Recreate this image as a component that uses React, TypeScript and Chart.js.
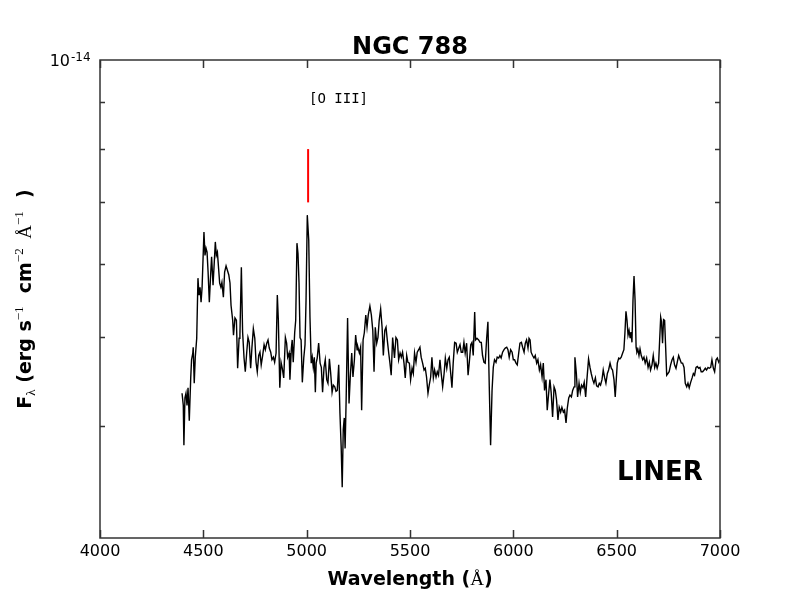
import React, { useEffect, useRef } from "react";
import { Chart, registerables } from "chart.js";

Chart.register(...registerables);

const TITLE = "NGC 788";
const LINE_LABEL = "[O III]";
const CLASS_LABEL = "LINER";
const FLUX_UNIT = 1e-15;
const X_MIN = 4000;
const X_MAX = 7000;
const Y_MIN = 3.02; // x1e-15
const Y_MAX = 10; // x1e-15 (= 10^-14)
const X_TICKS = [4000, 4500, 5000, 5500, 6000, 6500, 7000];
const Y_MINOR_TICKS = [4, 5, 6, 7, 8, 9]; // x1e-15
const Y_TICK_BASE = "10";
const Y_TICK_EXP = "-14";
const OIII_WAVELENGTH = 5007;
const OIII_MARKER = [7.0, 8.0]; // x1e-15

// [wavelength (Å), flux (x1e-15 erg s^-1 cm^-2 Å^-1)]
const spectrum: [number, number][] = [
  [4397,4.34],[4403,4.21],[4406,3.81],[4411,4.29],[4416,4.34],[4421,4.21],[4426,4.40],[4432,4.05],[4439,4.51],[4443,4.72],
  [4449,4.80],[4451,4.87],[4456,4.45],[4461,4.75],[4468,4.98],[4474,5.79],[4479,5.55],[4484,5.66],[4489,5.45],[4494,5.66],
  [4503,6.50],[4508,6.13],[4513,6.24],[4518,6.18],[4523,5.88],[4529,5.45],[4536,5.88],[4540,6.11],[4547,5.69],[4553,6.03],
  [4558,6.34],[4563,6.13],[4568,6.18],[4572,6.01],[4579,5.72],[4585,5.66],[4590,5.73],[4597,5.52],[4603,5.88],[4610,5.97],
  [4616,5.91],[4623,5.84],[4629,5.72],[4634,5.41],[4642,5.21],[4646,5.02],[4653,5.24],[4660,5.21],[4666,4.62],[4673,4.98],
  [4677,5.02],[4684,5.95],[4690,5.06],[4697,4.74],[4703,4.58],[4710,4.81],[4716,4.99],[4722,4.93],[4729,4.62],[4735,4.86],
  [4742,5.10],[4749,4.98],[4755,4.69],[4761,4.58],[4768,4.77],[4774,4.81],[4780,4.66],[4787,4.77],[4794,4.90],[4800,4.84],
  [4807,4.92],[4813,4.96],[4819,4.86],[4826,4.81],[4832,4.72],[4839,4.75],[4845,4.69],[4852,4.80],[4858,5.55],[4863,5.21],
  [4870,4.40],[4876,4.69],[4882,4.62],[4889,4.51],[4897,4.99],[4903,4.92],[4908,4.75],[4915,4.80],[4919,4.49],[4926,4.86],
  [4930,4.96],[4935,4.69],[4942,5.05],[4947,5.21],[4953,6.32],[4958,6.16],[4963,5.72],[4968,4.99],[4973,4.96],[4979,4.46],
  [4986,4.74],[4992,4.90],[4997,5.48],[5003,6.78],[5010,6.37],[5016,5.25],[5022,4.68],[5027,4.75],[5032,4.63],[5037,4.75],
  [5042,4.35],[5046,4.68],[5051,4.74],[5058,4.92],[5065,4.68],[5071,4.63],[5077,4.35],[5084,4.63],[5090,4.72],[5097,4.49],
  [5103,4.45],[5110,4.73],[5116,4.57],[5123,4.35],[5129,4.43],[5136,4.41],[5142,4.36],[5148,4.37],[5155,4.66],[5161,4.13],
  [5167,3.79],[5172,3.43],[5177,3.96],[5182,4.08],[5186,3.78],[5191,4.27],[5198,5.24],[5205,4.23],[5211,4.52],[5218,4.80],
  [5224,4.52],[5231,4.72],[5237,5.02],[5244,4.84],[5248,4.87],[5255,4.80],[5261,4.87],[5266,4.16],[5273,4.96],[5279,5.05],
  [5286,5.28],[5292,5.12],[5298,5.28],[5306,5.40],[5313,5.28],[5320,5.08],[5326,4.58],[5332,5.12],[5339,4.92],[5345,4.99],
  [5351,5.21],[5358,5.36],[5365,5.12],[5371,4.77],[5378,5.08],[5384,5.12],[5390,4.96],[5397,4.80],[5403,4.68],[5409,4.54],
  [5416,4.99],[5425,4.74],[5432,4.99],[5439,4.96],[5445,4.72],[5452,4.80],[5458,4.75],[5464,4.81],[5471,4.68],[5477,4.51],
  [5484,4.77],[5490,4.69],[5497,4.68],[5503,4.49],[5510,4.62],[5516,4.56],[5522,4.80],[5529,4.69],[5535,4.81],[5542,4.84],
  [5548,4.87],[5554,4.75],[5561,4.68],[5568,4.60],[5574,4.62],[5580,4.52],[5587,4.34],[5593,4.43],[5600,4.52],[5606,4.75],
  [5613,4.51],[5619,4.60],[5626,4.52],[5632,4.58],[5638,4.54],[5645,4.72],[5651,4.56],[5658,4.41],[5665,4.56],[5671,4.74],
  [5678,4.62],[5684,4.72],[5690,4.75],[5697,4.56],[5703,4.40],[5709,4.68],[5716,4.93],[5723,4.92],[5729,4.81],[5736,4.86],
  [5742,4.90],[5748,4.81],[5755,4.81],[5761,4.93],[5767,4.80],[5774,4.92],[5781,4.54],[5787,4.69],[5794,4.90],[5800,4.93],
  [5806,4.77],[5813,5.32],[5817,4.96],[5824,4.98],[5832,4.96],[5839,4.93],[5845,4.93],[5851,4.77],[5858,4.69],[5864,4.68],
  [5871,4.98],[5877,5.19],[5884,4.37],[5890,3.81],[5897,4.37],[5903,4.63],[5909,4.72],[5916,4.69],[5922,4.75],[5929,4.74],
  [5935,4.77],[5941,4.74],[5948,4.81],[5955,4.84],[5961,4.86],[5968,4.87],[5974,4.84],[5980,4.75],[5987,4.84],[5994,4.81],
  [6000,4.72],[6006,4.72],[6013,4.68],[6019,4.66],[6026,4.80],[6032,4.92],[6039,4.93],[6045,4.87],[6052,4.81],[6058,4.92],
  [6064,4.96],[6071,4.86],[6076,4.98],[6081,4.96],[6086,4.81],[6093,4.77],[6100,4.74],[6106,4.77],[6113,4.68],[6119,4.72],
  [6126,4.60],[6132,4.66],[6139,4.52],[6145,4.68],[6151,4.37],[6158,4.49],[6164,4.16],[6171,4.34],[6177,4.49],[6183,4.35],
  [6190,4.09],[6197,4.41],[6203,4.37],[6209,4.27],[6216,4.06],[6222,4.19],[6229,4.14],[6235,4.19],[6242,4.14],[6248,4.16],
  [6255,4.03],[6261,4.18],[6268,4.29],[6274,4.32],[6281,4.30],[6287,4.37],[6294,4.41],[6298,4.75],[6305,4.56],[6311,4.30],
  [6318,4.45],[6324,4.35],[6330,4.43],[6337,4.40],[6343,4.46],[6350,4.30],[6356,4.49],[6364,4.73],[6371,4.63],[6377,4.56],
  [6384,4.49],[6390,4.45],[6397,4.51],[6403,4.42],[6410,4.41],[6416,4.45],[6422,4.43],[6429,4.49],[6435,4.60],[6442,4.51],
  [6448,4.45],[6455,4.56],[6461,4.60],[6468,4.68],[6474,4.62],[6480,4.60],[6487,4.49],[6493,4.30],[6503,4.68],[6510,4.74],
  [6516,4.73],[6522,4.75],[6529,4.80],[6535,4.84],[6540,5.05],[6545,5.33],[6550,5.21],[6555,5.02],[6560,5.08],[6565,4.99],
  [6569,5.06],[6574,4.93],[6579,5.48],[6584,5.82],[6589,5.48],[6594,4.87],[6598,4.81],[6603,4.84],[6608,4.77],[6613,4.85],
  [6619,4.77],[6626,4.72],[6632,4.75],[6638,4.68],[6645,4.74],[6652,4.63],[6658,4.69],[6664,4.60],[6671,4.66],[6677,4.77],
  [6684,4.63],[6690,4.68],[6696,4.62],[6703,4.68],[6708,4.96],[6713,5.25],[6717,5.19],[6722,4.92],[6727,5.22],[6732,5.21],
  [6737,4.87],[6742,4.54],[6748,4.56],[6754,4.58],[6761,4.66],[6768,4.72],[6774,4.75],[6780,4.66],[6787,4.62],[6793,4.69],
  [6800,4.77],[6807,4.72],[6813,4.68],[6819,4.68],[6826,4.63],[6832,4.45],[6839,4.41],[6845,4.45],[6851,4.40],[6858,4.46],
  [6865,4.51],[6871,4.56],[6877,4.54],[6884,4.63],[6890,4.64],[6897,4.62],[6903,4.63],[6909,4.58],[6916,4.58],[6923,4.60],
  [6929,4.62],[6935,4.60],[6942,4.63],[6948,4.62],[6955,4.63],[6961,4.72],[6968,4.62],[6974,4.58],[6981,4.72],[6987,4.74],
  [6994,4.69],[7000,4.72],
];

type Seg = { text: string; font: string; dy?: number };

const BOLD = (s: number) => `bold ${s}px "DejaVu Sans"`;
const SERIF = (s: number) => `${s}px "Liberation Serif"`;

function drawRich(ctx: CanvasRenderingContext2D, segs: Seg[], cx: number, baseline: number) {
  let total = 0;
  const widths = segs.map((s) => {
    ctx.font = s.font;
    const w = ctx.measureText(s.text).width;
    total += w;
    return w;
  });
  let x = cx - total / 2;
  ctx.textAlign = "left";
  ctx.textBaseline = "alphabetic";
  segs.forEach((s, i) => {
    ctx.font = s.font;
    ctx.fillText(s.text, x, baseline + (s.dy || 0));
    x += widths[i];
  });
}

const decor = {
  id: "decor",
  afterDraw(chart: any) {
    const { ctx, chartArea, scales } = chart;
    const { left, right, top, bottom } = chartArea;
    const xs = scales.x;
    const ys = scales.y;
    ctx.save();
    // frame and inward ticks
    ctx.strokeStyle = "#333";
    ctx.lineWidth = 1.5;
    ctx.beginPath();
    X_TICKS.forEach((v) => {
      const px = Math.round(xs.getPixelForValue(v)) + 0.5;
      ctx.moveTo(px, bottom);
      ctx.lineTo(px, bottom - 8);
      ctx.moveTo(px, top);
      ctx.lineTo(px, top + 8);
    });
    Y_MINOR_TICKS.forEach((v) => {
      const py = Math.round(ys.getPixelForValue(v * FLUX_UNIT)) + 0.5;
      ctx.moveTo(left, py);
      ctx.lineTo(left + 5, py);
      ctx.moveTo(right, py);
      ctx.lineTo(right - 5, py);
    });
    ctx.stroke();
    ctx.strokeRect(left, top, right - left, bottom - top);

    ctx.fillStyle = "#000";
    // y tick label 10^-14
    const yTop = ys.getPixelForValue(Y_MAX * FLUX_UNIT);
    ctx.font = `16px "DejaVu Sans"`;
    ctx.textAlign = "right";
    ctx.textBaseline = "middle";
    ctx.fillText(Y_TICK_BASE, 70, yTop + 2);
    ctx.font = `12px "DejaVu Sans"`;
    ctx.textAlign = "left";
    ctx.textBaseline = "alphabetic";
    ctx.fillText(Y_TICK_EXP, 71, yTop + 1);

    // title
    ctx.font = BOLD(24);
    ctx.textAlign = "center";
    ctx.textBaseline = "alphabetic";
    ctx.fillText(TITLE, (left + right) / 2, 54);

    // [O III] label
    ctx.font = `14px "DejaVu Sans Mono"`;
    ctx.textAlign = "left";
    ctx.fillText(LINE_LABEL, 309, 103);

    // class label
    ctx.font = BOLD(26);
    ctx.textAlign = "center";
    ctx.fillText(CLASS_LABEL, 660, 480);

    // x axis title
    drawRich(
      ctx,
      [
        { text: "Wavelength (", font: BOLD(19) },
        { text: "Å", font: SERIF(19) },
        { text: ")", font: BOLD(19) },
      ],
      (left + right) / 2,
      585
    );

    // y axis title (rotated)
    ctx.save();
    ctx.translate(31, (top + bottom) / 2);
    ctx.rotate(-Math.PI / 2);
    drawRich(
      ctx,
      [
        { text: "F", font: BOLD(19) },
        { text: "λ", font: SERIF(13), dy: 4 },
        { text: " (erg s", font: BOLD(19) },
        { text: "−1", font: SERIF(13), dy: -8 },
        { text: "  cm", font: BOLD(19) },
        { text: "−2", font: SERIF(13), dy: -8 },
        { text: "  Å", font: SERIF(19) },
        { text: "−1", font: SERIF(13), dy: -8 },
        { text: "  )", font: BOLD(19) },
      ],
      0,
      0
    );
    ctx.restore();
    ctx.restore();
  },
};

export default function App() {
  const ref = useRef<HTMLCanvasElement>(null);
  useEffect(() => {
    const canvas = ref.current!;
    const chart = new Chart(canvas, {
      type: "line",
      data: {
        datasets: [
          {
            data: spectrum.map(([w, f]) => ({ x: w, y: f * FLUX_UNIT })),
            borderColor: "#000",
            borderWidth: 1.4,
            pointRadius: 0,
            tension: 0,
          },
          {
            data: OIII_MARKER.map((f) => ({ x: OIII_WAVELENGTH, y: f * FLUX_UNIT })),
            borderColor: "#ff0000",
            borderWidth: 2,
            pointRadius: 0,
          },
        ],
      },
      options: {
        responsive: false,
        animation: false,
        devicePixelRatio: 1,
        events: [],
        layout: { padding: { top: 60, right: 80, left: 0, bottom: 0 } },
        plugins: {
          legend: { display: false },
          tooltip: { enabled: false },
          title: { display: false },
        },
        scales: {
          x: {
            type: "linear",
            min: X_MIN,
            max: X_MAX,
            afterBuildTicks: (s: any) => {
              s.ticks = X_TICKS.map((v) => ({ value: v }));
            },
            ticks: {
              font: { family: "DejaVu Sans", size: 16 },
              color: "#000",
              padding: 4,
              maxRotation: 0,
              autoSkip: false,
              callback: (v: any) => String(v),
            },
            grid: { display: false, drawTicks: false },
            border: { display: false },
            afterFit: (s: any) => {
              s.height = 62;
            },
          },
          y: {
            type: "logarithmic",
            min: Y_MIN * FLUX_UNIT,
            max: Y_MAX * FLUX_UNIT,
            ticks: { display: false },
            grid: { display: false, drawTicks: false },
            border: { display: false },
            afterFit: (s: any) => {
              s.width = 100;
            },
          },
        },
      } as any,
      plugins: [decor],
    });
    return () => chart.destroy();
  }, []);
  return (
    <div style={{ position: "absolute", left: 0, top: 0, width: 800, height: 600 }}>
      <canvas ref={ref} width={800} height={600} />
    </div>
  );
}
